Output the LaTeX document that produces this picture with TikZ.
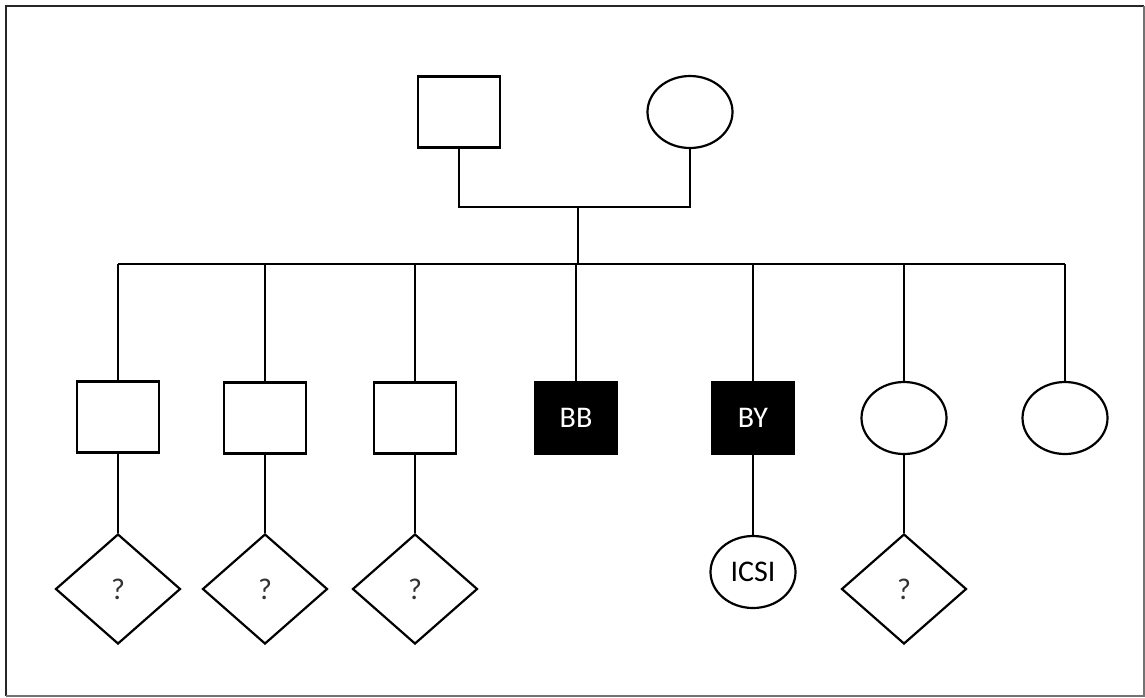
\documentclass[tikz,border=0pt]{standalone}
\usepackage{fontspec}
\setmainfont{Carlito}
\usetikzlibrary{shapes.geometric}

\begin{document}
\begin{tikzpicture}[x=1pt, y=-1pt, line width=2.2pt,
    font=\fontsize{30}{34}\selectfont,
    male/.style = {draw, rectangle, inner sep=0pt, minimum width=82pt, minimum height=71pt},
    female/.style = {draw, ellipse, inner sep=0pt, minimum width=85pt, minimum height=72pt},
    unknown/.style = {draw, diamond, inner sep=0pt, minimum width=125pt, minimum height=110pt, text=black!80},
    affected/.style = {male, fill=black, text=white}]
    \useasboundingbox (0,0) rectangle (1145,697);
    \draw[black!85] (6,696) -- (6,6) -- (1144,6);
    \draw[black!55] (1144,6) -- (1144,696) -- (6,696);
    % parents
    \node[male] (f) at (459,112) {};
    \node[female] (m) at (690,112) {};
    \coordinate (mar) at (578,207);
    \coordinate (sl) at (118,264);
    \coordinate (sr) at (1065,264);
    \draw (f.south) |- (mar) -| (m.south);
    \draw (mar) -- (mar |- sl);
    \draw (sl) -- (sr);
    % children
    \node[male] (c1) at (118,417) {};
    \node[male] (c2) at (265,418) {};
    \node[male] (c3) at (415,418) {};
    \node[affected] (bb) at (576,418) {BB};
    \node[affected] (by) at (753,418) {BY};
    \node[female] (c6) at (904,418) {};
    \node[female] (c7) at (1065,418) {};
    \foreach \n in {c1,c2,c3,bb,by,c6,c7}
        \draw (\n.north) -- (\n.north |- sl);
    % grandchildren
    \node[unknown] (g1) at (118,589) {?};
    \node[unknown] (g2) at (265,589) {?};
    \node[unknown] (g3) at (415,589) {?};
    \node[female] (icsi) at (753,572) {ICSI};
    \node[unknown] (g6) at (904,589) {?};
    \draw (c1.south) -- (g1.north);
    \draw (c2.south) -- (g2.north);
    \draw (c3.south) -- (g3.north);
    \draw (by.south) -- (icsi.north);
    \draw (c6.south) -- (g6.north);
\end{tikzpicture}
\end{document}
